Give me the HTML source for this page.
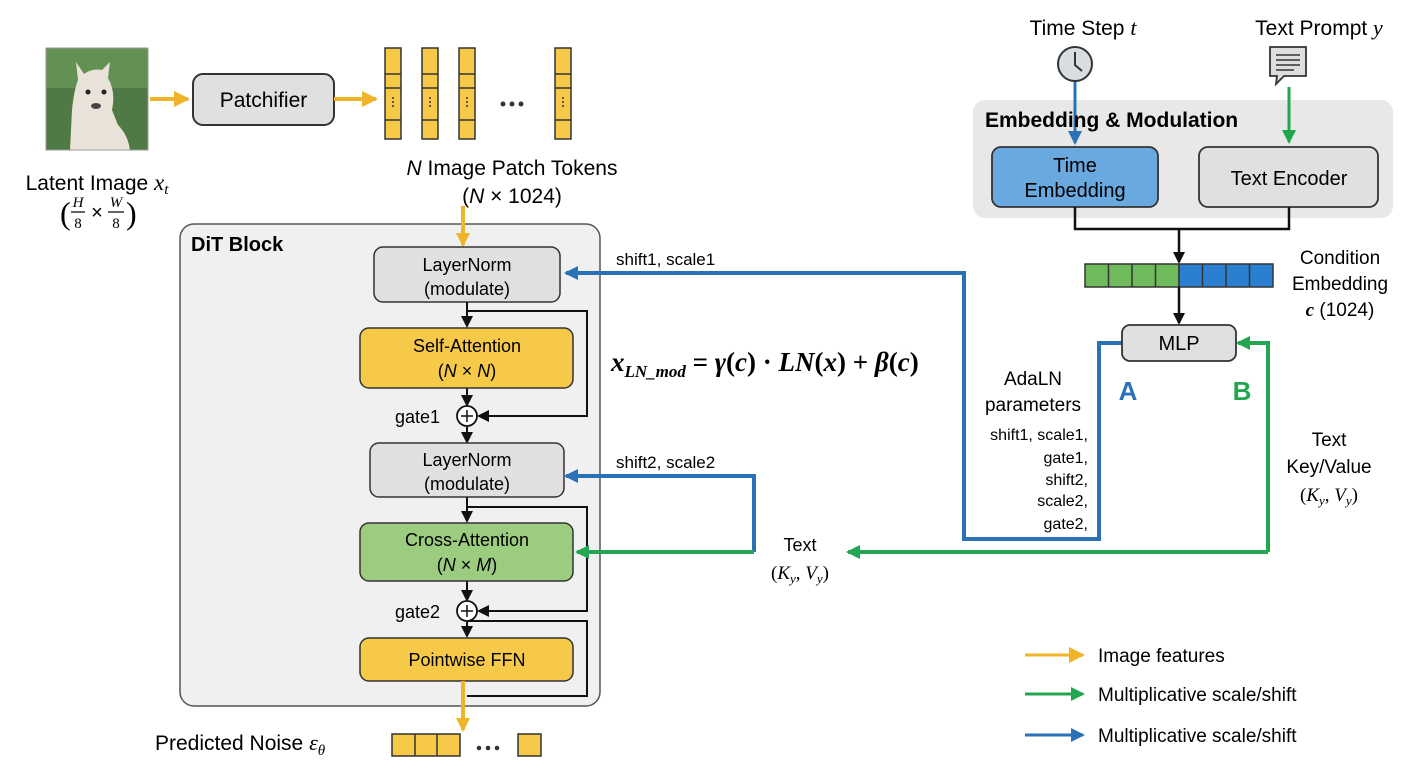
<!DOCTYPE html>
<html><head><meta charset="utf-8"><style>
body{margin:0;background:#fff;}
svg{display:block;font-family:"Liberation Sans",sans-serif;}
.m{font-family:"Liberation Serif",serif;font-style:italic;}
</style></head><body>
<svg width="1408" height="768" viewBox="0 0 1408 768" xmlns="http://www.w3.org/2000/svg">
<defs>
<marker id="ay" markerWidth="14" markerHeight="14" refX="12" refY="7" orient="auto" markerUnits="userSpaceOnUse"><path d="M0,0 L14,7 L0,14z" fill="#f0b429"/></marker>
<marker id="ab" markerWidth="14" markerHeight="14" refX="12" refY="7" orient="auto" markerUnits="userSpaceOnUse"><path d="M0,0 L14,7 L0,14z" fill="#2a72b5"/></marker>
<marker id="ag" markerWidth="14" markerHeight="14" refX="12" refY="7" orient="auto" markerUnits="userSpaceOnUse"><path d="M0,0 L14,7 L0,14z" fill="#22a650"/></marker>
<marker id="ak" markerWidth="12" markerHeight="12" refX="10" refY="6" orient="auto" markerUnits="userSpaceOnUse"><path d="M0,0 L12,6 L0,12z" fill="#111"/></marker>
<marker id="aY" markerWidth="16" markerHeight="16" refX="14" refY="8" orient="auto" markerUnits="userSpaceOnUse"><path d="M0,0 L16,8 L0,16z" fill="#f0b429"/></marker>
</defs>

<!-- llama image -->
<rect x="46" y="48" width="102" height="102" fill="#4f7a45"/>
<rect x="46" y="48" width="102" height="40" fill="#6c9a5a" opacity="0.7"/>
<path d="M70,150 L72,110 Q74,90 78,80 L76,62 L84,74 Q92,68 102,70 L110,62 L108,78 Q116,92 112,110 L118,125 Q128,135 130,150 Z" fill="#e8e2d8"/>
<circle cx="88" cy="92" r="2.5" fill="#222"/><circle cx="104" cy="92" r="2.5" fill="#222"/>
<ellipse cx="96" cy="106" rx="5" ry="3" fill="#444"/>
<rect x="46" y="48" width="102" height="102" fill="none" stroke="#999" stroke-width="1"/>

<line x1="150" y1="99" x2="188" y2="99" stroke="#f0b429" stroke-width="4" marker-end="url(#aY)"/>
<rect x="193" y="74" width="141" height="51" rx="10" fill="#e0e0e0" stroke="#333" stroke-width="2"/>
<text x="263.5" y="107" font-size="21" text-anchor="middle">Patchifier</text>
<line x1="334" y1="99" x2="376" y2="99" stroke="#f0b429" stroke-width="4" marker-end="url(#aY)"/>

<!-- token columns -->
<g fill="#f7c948" stroke="#333" stroke-width="1.5">
<g id="col"><rect x="385" y="48" width="16" height="91"/><line x1="385" y1="74" x2="401" y2="74"/><line x1="385" y1="88" x2="401" y2="88"/><line x1="385" y1="120" x2="401" y2="120"/></g>
<use href="#col" x="37"/><use href="#col" x="74"/><use href="#col" x="170"/>
</g>
<g fill="#333"><circle cx="393" cy="98" r="1"/><circle cx="393" cy="102" r="1"/><circle cx="393" cy="106" r="1"/>
<circle cx="430" cy="98" r="1"/><circle cx="430" cy="102" r="1"/><circle cx="430" cy="106" r="1"/>
<circle cx="467" cy="98" r="1"/><circle cx="467" cy="102" r="1"/><circle cx="467" cy="106" r="1"/>
<circle cx="563" cy="98" r="1"/><circle cx="563" cy="102" r="1"/><circle cx="563" cy="106" r="1"/>
<circle cx="503" cy="104" r="2.5"/><circle cx="512" cy="104" r="2.5"/><circle cx="521" cy="104" r="2.5"/></g>

<text x="97" y="190" font-size="21" text-anchor="middle">Latent Image <tspan class="m" font-size="23">x<tspan font-size="15" dy="4">t</tspan></tspan></text>
<!-- fraction -->
<text x="60" y="224" font-size="32" font-family="Liberation Serif,serif">(</text>
<text x="78" y="207" font-size="15" class="m" text-anchor="middle">H</text>
<line x1="71" y1="212" x2="85" y2="212" stroke="#000" stroke-width="1.2"/>
<text x="78" y="228" font-size="15" font-family="Liberation Serif,serif" text-anchor="middle">8</text>
<text x="97" y="219" font-size="20" text-anchor="middle">×</text>
<text x="116" y="207" font-size="15" class="m" text-anchor="middle">W</text>
<line x1="108" y1="212" x2="124" y2="212" stroke="#000" stroke-width="1.2"/>
<text x="116" y="228" font-size="15" font-family="Liberation Serif,serif" text-anchor="middle">8</text>
<text x="126" y="224" font-size="32" font-family="Liberation Serif,serif">)</text>

<text x="512" y="175" font-size="21" text-anchor="middle"><tspan font-style="italic">N</tspan> Image Patch Tokens</text>
<text x="512" y="203" font-size="21" text-anchor="middle">(<tspan font-style="italic">N</tspan> × 1024)</text>

<!-- DiT block -->
<rect x="180" y="224" width="420" height="482" rx="14" fill="#f0f0f0" stroke="#555" stroke-width="1.5"/>
<text x="191" y="251" font-size="20" font-weight="bold">DiT Block</text>
<line x1="463" y1="206" x2="463" y2="245" stroke="#f0b429" stroke-width="4" marker-end="url(#ay)"/>

<rect x="374" y="247" width="186" height="55" rx="9" fill="#e0e0e0" stroke="#333" stroke-width="1.5"/>
<text x="467" y="271" font-size="18" text-anchor="middle">LayerNorm</text>
<text x="467" y="295" font-size="18" text-anchor="middle">(modulate)</text>

<g stroke="#111" stroke-width="2" fill="none">
<line x1="467" y1="302" x2="467" y2="326" marker-end="url(#ak)"/>
<polyline points="467,311 587,311 587,416 479,416" marker-end="url(#ak)"/>
<line x1="467" y1="388" x2="467" y2="405" marker-end="url(#ak)"/>
<line x1="467" y1="427" x2="467" y2="442" marker-end="url(#ak)"/>
<line x1="467" y1="497" x2="467" y2="521" marker-end="url(#ak)"/>
<polyline points="467,507 587,507 587,611 479,611" marker-end="url(#ak)"/>
<line x1="467" y1="581" x2="467" y2="600" marker-end="url(#ak)"/>
<line x1="467" y1="622" x2="467" y2="636" marker-end="url(#ak)"/>
<polyline points="467,621 587,621 587,696 467,696"/>
</g>
<rect x="360" y="328" width="213" height="60" rx="9" fill="#f7c948" stroke="#333" stroke-width="1.5"/>
<text x="467" y="352" font-size="18" text-anchor="middle">Self-Attention</text>
<text x="467" y="377" font-size="18" text-anchor="middle">(<tspan font-style="italic">N</tspan> × <tspan font-style="italic">N</tspan>)</text>
<circle cx="467" cy="416" r="10" fill="#fff" stroke="#111" stroke-width="1.8"/>
<path d="M461,416 H473 M467,410 V422" stroke="#111" stroke-width="1.5"/>
<text x="440" y="423" font-size="18" text-anchor="end">gate1</text>

<rect x="370" y="443" width="194" height="54" rx="9" fill="#e0e0e0" stroke="#333" stroke-width="1.5"/>
<text x="467" y="466" font-size="18" text-anchor="middle">LayerNorm</text>
<text x="467" y="490" font-size="18" text-anchor="middle">(modulate)</text>

<rect x="360" y="523" width="213" height="58" rx="9" fill="#9ccc80" stroke="#333" stroke-width="1.5"/>
<text x="467" y="546" font-size="18" text-anchor="middle">Cross-Attention</text>
<text x="467" y="571" font-size="18" text-anchor="middle">(<tspan font-style="italic">N</tspan> × <tspan font-style="italic">M</tspan>)</text>
<circle cx="467" cy="611" r="10" fill="#fff" stroke="#111" stroke-width="1.8"/>
<path d="M461,611 H473 M467,605 V617" stroke="#111" stroke-width="1.5"/>
<text x="440" y="618" font-size="18" text-anchor="end">gate2</text>

<rect x="360" y="638" width="213" height="43" rx="9" fill="#f7c948" stroke="#333" stroke-width="1.5"/>
<text x="467" y="666" font-size="18" text-anchor="middle">Pointwise FFN</text>
<line x1="463" y1="681" x2="463" y2="730" stroke="#f0b429" stroke-width="4" marker-end="url(#ay)"/>

<text x="155" y="750" font-size="21">Predicted Noise <tspan class="m" font-size="22">ε<tspan font-size="15" dy="5">θ</tspan></tspan></text>
<g fill="#f7c948" stroke="#333" stroke-width="1.5">
<rect x="392" y="734" width="68" height="22"/><line x1="415" y1="734" x2="415" y2="756"/><line x1="437" y1="734" x2="437" y2="756"/>
<rect x="518" y="734" width="23" height="22"/></g>
<g fill="#333"><circle cx="479" cy="748" r="2.3"/><circle cx="488" cy="748" r="2.3"/><circle cx="497" cy="748" r="2.3"/></g>

<!-- formula -->
<text x="611" y="371" font-size="27" font-weight="bold" font-family="Liberation Serif,serif" font-style="italic">x<tspan font-size="17" dy="6">LN_mod</tspan><tspan dy="-6" font-style="normal"> = </tspan>γ<tspan font-style="normal">(</tspan>c<tspan font-style="normal">) · </tspan>LN<tspan font-style="normal">(</tspan>x<tspan font-style="normal">) + </tspan>β<tspan font-style="normal">(</tspan>c<tspan font-style="normal">)</tspan></text>

<!-- blue / green connectors -->
<text x="616" y="265" font-size="17">shift1, scale1</text>
<text x="616" y="468" font-size="17">shift2, scale2</text>
<g fill="none" stroke-width="4">
<polyline points="1122,343 1099,343 1099,539 964,539 964,273 566,273" stroke="#2a72b5" marker-end="url(#ab)"/>
<polyline points="754,552 754,476 566,476" stroke="#2a72b5" marker-end="url(#ab)"/>
<line x1="754" y1="552" x2="577" y2="552" stroke="#22a650" marker-end="url(#ag)"/>
<polyline points="1268,552 1268,343 1238,343" stroke="#22a650" marker-end="url(#ag)"/>
<line x1="1268" y1="552" x2="848" y2="552" stroke="#22a650" marker-end="url(#ag)"/>
</g>
<text x="800" y="551" font-size="18" text-anchor="middle">Text</text>
<text x="800" y="579" font-size="19" text-anchor="middle" font-family="Liberation Serif,serif">(<tspan font-style="italic">K<tspan font-size="13" dy="4">y</tspan></tspan><tspan dy="-4">, </tspan><tspan font-style="italic">V<tspan font-size="13" dy="4">y</tspan></tspan><tspan dy="-4">)</tspan></text>

<!-- right side -->
<text x="1083" y="35" font-size="21" text-anchor="middle">Time Step <tspan class="m" font-size="22">t</tspan></text>
<text x="1319" y="35" font-size="21" text-anchor="middle">Text Prompt <tspan class="m" font-size="22">y</tspan></text>
<rect x="973" y="100" width="420" height="118" rx="12" fill="#e8e8e8"/>
<line x1="1075" y1="82" x2="1075" y2="143" stroke="#2a72b5" stroke-width="3" marker-end="url(#ab)"/>
<circle cx="1075" cy="64" r="17" fill="#d8dde2" stroke="#333" stroke-width="2"/>
<path d="M1075,52 V65 L1082,71" stroke="#333" stroke-width="2" fill="none"/>
<path d="M1270,47 H1306 V76 H1284 L1276,84 L1277,76 H1270 Z" fill="#ddd" stroke="#333" stroke-width="1.8"/>
<path d="M1276,55 H1300 M1276,60 H1300 M1276,65 H1300 M1276,70 H1294" stroke="#333" stroke-width="1.5"/>
<line x1="1289" y1="87" x2="1289" y2="142" stroke="#22a650" stroke-width="3" marker-end="url(#ag)"/>
<text x="985" y="127" font-size="21" font-weight="bold">Embedding &amp; Modulation</text>
<rect x="992" y="147" width="166" height="60" rx="9" fill="#6aa8e0" stroke="#333" stroke-width="1.8"/>
<text x="1075" y="172" font-size="20" text-anchor="middle">Time</text>
<text x="1075" y="197" font-size="20" text-anchor="middle">Embedding</text>
<rect x="1199" y="147" width="179" height="60" rx="9" fill="#e0e0e0" stroke="#333" stroke-width="1.8"/>
<text x="1289" y="185" font-size="20" text-anchor="middle">Text Encoder</text>
<polyline points="1075,207 1075,229 1289,229 1289,207" fill="none" stroke="#111" stroke-width="2.5"/>
<line x1="1179" y1="229" x2="1179" y2="262" stroke="#111" stroke-width="2.5" marker-end="url(#ak)"/>
<g stroke="#333" stroke-width="1.5">
<rect x="1085" y="264" width="94" height="23" fill="#6fbb5c"/>
<rect x="1179" y="264" width="94" height="23" fill="#2a7fd0"/>
<path d="M1108.5,264V287M1132,264V287M1155.5,264V287M1202.5,264V287M1226,264V287M1249.5,264V287"/>
</g>
<line x1="1179" y1="287" x2="1179" y2="323" stroke="#111" stroke-width="2.5" marker-end="url(#ak)"/>
<text x="1340" y="264" font-size="19" text-anchor="middle">Condition</text>
<text x="1340" y="290" font-size="19" text-anchor="middle">Embedding</text>
<text x="1340" y="316" font-size="19" text-anchor="middle"><tspan class="m" font-weight="bold">c</tspan> (1024)</text>
<rect x="1122" y="325" width="114" height="36" rx="8" fill="#e0e0e0" stroke="#333" stroke-width="1.8"/>
<text x="1179" y="350" font-size="20" text-anchor="middle">MLP</text>
<text x="1128" y="400" font-size="26" font-weight="bold" fill="#2a72b5" text-anchor="middle">A</text>
<text x="1242" y="400" font-size="26" font-weight="bold" fill="#22a650" text-anchor="middle">B</text>
<text x="1033" y="385" font-size="19" text-anchor="middle">AdaLN</text>
<text x="1033" y="411" font-size="19" text-anchor="middle">parameters</text>
<g font-size="16" text-anchor="end">
<text x="1088" y="440">shift1, scale1,</text>
<text x="1088" y="463">gate1,</text>
<text x="1088" y="485">shift2,</text>
<text x="1088" y="506">scale2,</text>
<text x="1088" y="529">gate2,</text></g>
<text x="1329" y="446" font-size="19" text-anchor="middle">Text</text>
<text x="1329" y="473" font-size="19" text-anchor="middle">Key/Value</text>
<text x="1329" y="501" font-size="19" text-anchor="middle" font-family="Liberation Serif,serif">(<tspan font-style="italic">K<tspan font-size="13" dy="4">y</tspan></tspan><tspan dy="-4">, </tspan><tspan font-style="italic">V<tspan font-size="13" dy="4">y</tspan></tspan><tspan dy="-4">)</tspan></text>

<!-- legend -->
<line x1="1025" y1="655" x2="1083" y2="655" stroke="#f0b429" stroke-width="3" marker-end="url(#aY)"/>
<line x1="1025" y1="694" x2="1083" y2="694" stroke="#22a650" stroke-width="3" marker-end="url(#ag)"/>
<line x1="1025" y1="735" x2="1083" y2="735" stroke="#2a72b5" stroke-width="3" marker-end="url(#ab)"/>
<text x="1098" y="662" font-size="19">Image features</text>
<text x="1098" y="701" font-size="19">Multiplicative scale/shift</text>
<text x="1098" y="742" font-size="19">Multiplicative scale/shift</text>
</svg>
</body></html>
